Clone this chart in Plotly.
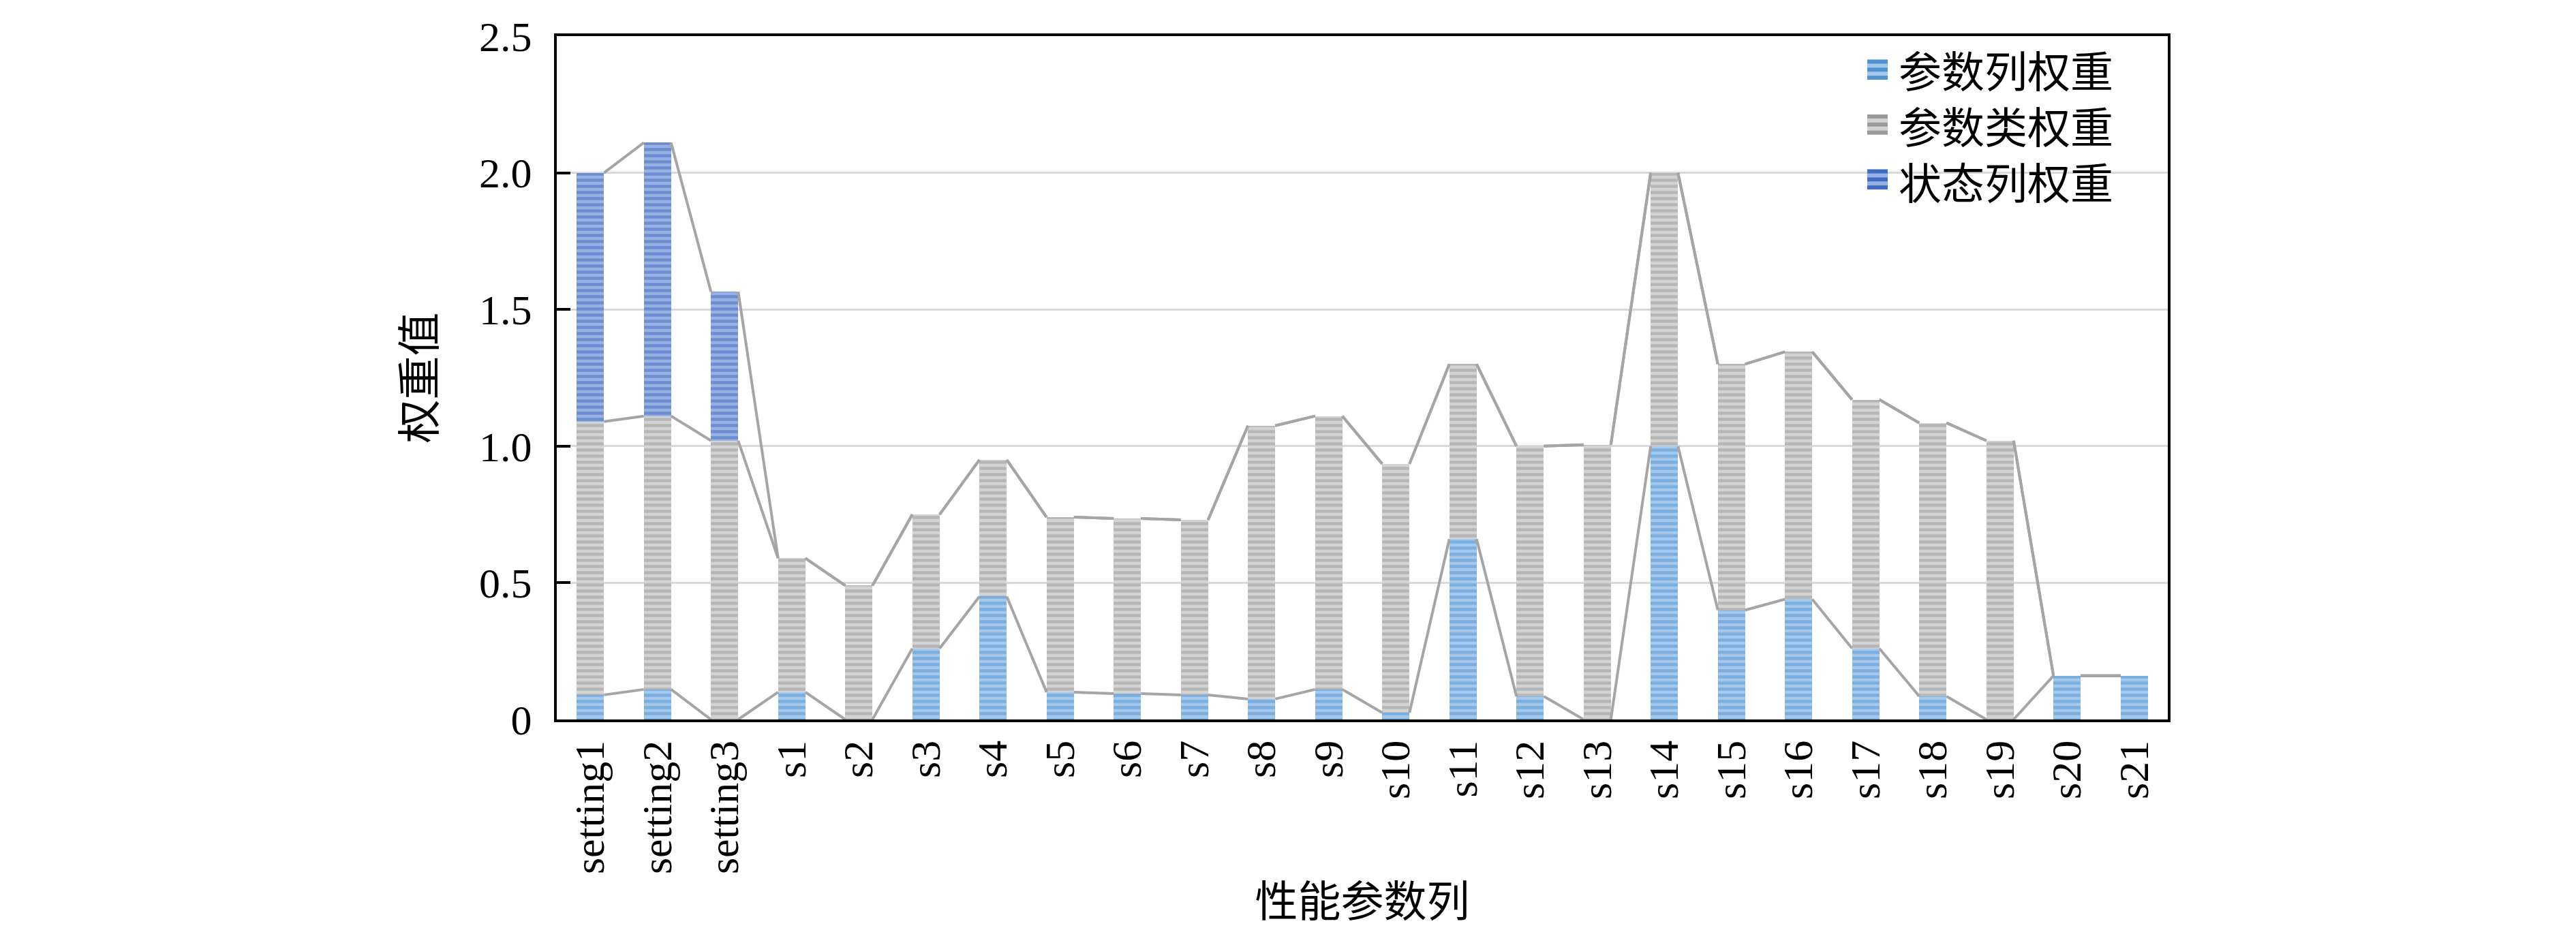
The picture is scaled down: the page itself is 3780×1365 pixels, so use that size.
import numpy as np
import plotly.graph_objects as go

categories = ["setting1", "setting2", "setting3", "s1", "s2", "s3", "s4", "s5", "s6", "s7",
              "s8", "s9", "s10", "s11", "s12", "s13", "s14", "s15", "s16", "s17",
              "s18", "s19", "s20", "s21"]
param_col_w = [0.09, 0.11, 0.0, 0.10, 0.0, 0.26, 0.45, 0.10, 0.095, 0.09,
               0.075, 0.11, 0.025, 0.66, 0.085, 0.0, 1.0, 0.40, 0.44, 0.26,
               0.085, 0.0, 0.16, 0.16]
param_cls_w = [1.0, 1.0, 1.02, 0.49, 0.49, 0.49, 0.50, 0.64, 0.64, 0.64,
               1.0, 1.0, 0.91, 0.64, 0.915, 1.005, 1.0, 0.90, 0.905, 0.91,
               1.0, 1.02, 0.0, 0.0]
state_col_w = [0.91, 1.0, 0.545, 0, 0, 0, 0, 0, 0, 0,
               0, 0, 0, 0, 0, 0, 0, 0, 0, 0,
               0, 0, 0, 0]
series_names = ["参数列权重", "参数类权重", "状态列权重"]
y_ticks = [0, 0.5, 1.0, 1.5, 2.0, 2.5]
y_tick_labels = ["0", "0.5", "1.0", "1.5", "2.0", "2.5"]

dark = ["#4F93D2", "#9A9A9A", "#3F6BC0"]
light = ["#A4C8EC", "#D3D3D3", "#98B1E2"]

BAR_W = 0.406
LAT = "Liberation Serif, Noto Sans CJK SC"
CJK = "Noto Sans CJK SC"
LEG_FONT = 63

xpos = np.arange(len(categories))
series = [np.array(param_col_w), np.array(param_cls_w), np.array(state_col_w)]

fig = go.Figure()
for k, vals in enumerate(series):
    fig.add_trace(go.Bar(
        x=xpos, y=vals, width=BAR_W, name=series_names[k], showlegend=False,
        marker=dict(color=light[k], line=dict(width=0),
                    pattern=dict(shape="-", size=9, solidity=0.5,
                                 fgcolor=dark[k], bgcolor=light[k], fillmode="overlay")),
    ))

# series lines connecting stacked segment tops (Excel style)
cum = np.cumsum(np.vstack(series), axis=0)
lx, ly = [], []
for k in range(cum.shape[0]):
    for i in range(len(categories) - 1):
        lx += [xpos[i] + BAR_W / 2, xpos[i + 1] - BAR_W / 2, None]
        ly += [cum[k, i], cum[k, i + 1], None]
fig.add_trace(go.Scatter(x=lx, y=ly, mode="lines", showlegend=False, hoverinfo="skip",
                         line=dict(color="#A5A5A5", width=4)))

# legend (drawn manually so symbols match the reference size); page pixel -> paper
X0, PW, YB, PH = 817, 2364, 1056, 1020
def px(x):
    return (x - X0) / PW
def py(y):
    return (YB - y) / PH

shapes = [dict(type="rect", xref="paper", yref="paper", layer="between",
               x0=px(2722), x1=px(3135), y0=py(292), y1=py(45),
               fillcolor="white", line=dict(width=0))]
mid_row = 168
row_gap = LEG_FONT * 1.3
rows = [mid_row - row_gap, mid_row, mid_row + row_gap]
for k in range(3):
    yc = rows[k]
    shapes.append(dict(type="rect", xref="paper", yref="paper", layer="above",
                       x0=px(2740), x1=px(2770), y0=py(yc + 15), y1=py(yc - 15),
                       fillcolor=light[k], line=dict(width=0)))
    for off in (-15, -3, 9):
        shapes.append(dict(type="rect", xref="paper", yref="paper", layer="above",
                           x0=px(2740), x1=px(2770), y0=py(yc + off + 6), y1=py(yc + off),
                           fillcolor=dark[k], line=dict(width=0)))
annotations = [dict(text="<br>".join(series_names), xref="paper", yref="paper",
                    x=px(2784), y=py(mid_row), xanchor="left", yanchor="middle", align="left",
                    showarrow=False, font=dict(family=CJK, size=LEG_FONT, color="black"))]

fig.update_layout(
    width=3772, height=1357, autosize=False,
    margin=dict(l=809, r=599, t=28, b=309),
    paper_bgcolor="white", plot_bgcolor="white",
    barmode="stack", bargap=0.6,
    font=dict(family=LAT, size=62, color="black"),
    shapes=shapes, annotations=annotations,
    xaxis=dict(range=[-0.5, len(categories) - 0.5], tickvals=xpos, ticktext=categories,
               tickangle=-90, showline=True, linecolor="black", linewidth=4, mirror=True,
               ticks="", showgrid=False, zeroline=False, ticklabelstandoff=2,
               tickfont=dict(family=LAT, size=62),
               title=dict(text="性能参数列", font=dict(family=CJK, size=63), standoff=20)),
    yaxis=dict(range=[0, 2.5], tickvals=y_ticks, ticktext=y_tick_labels,
               showline=True, linecolor="black", linewidth=4, mirror=True,
               ticks="inside", ticklen=20, tickwidth=4, tickcolor="black",
               showgrid=True, gridcolor="#D9D9D9", gridwidth=3, zeroline=False,
               ticklabelstandoff=20, ticklabeloverflow="allow",
               tickfont=dict(family=LAT, size=62),
               title=dict(text="权重值", font=dict(family=CJK, size=64), standoff=45)),
)

fig.write_html("out.html")
